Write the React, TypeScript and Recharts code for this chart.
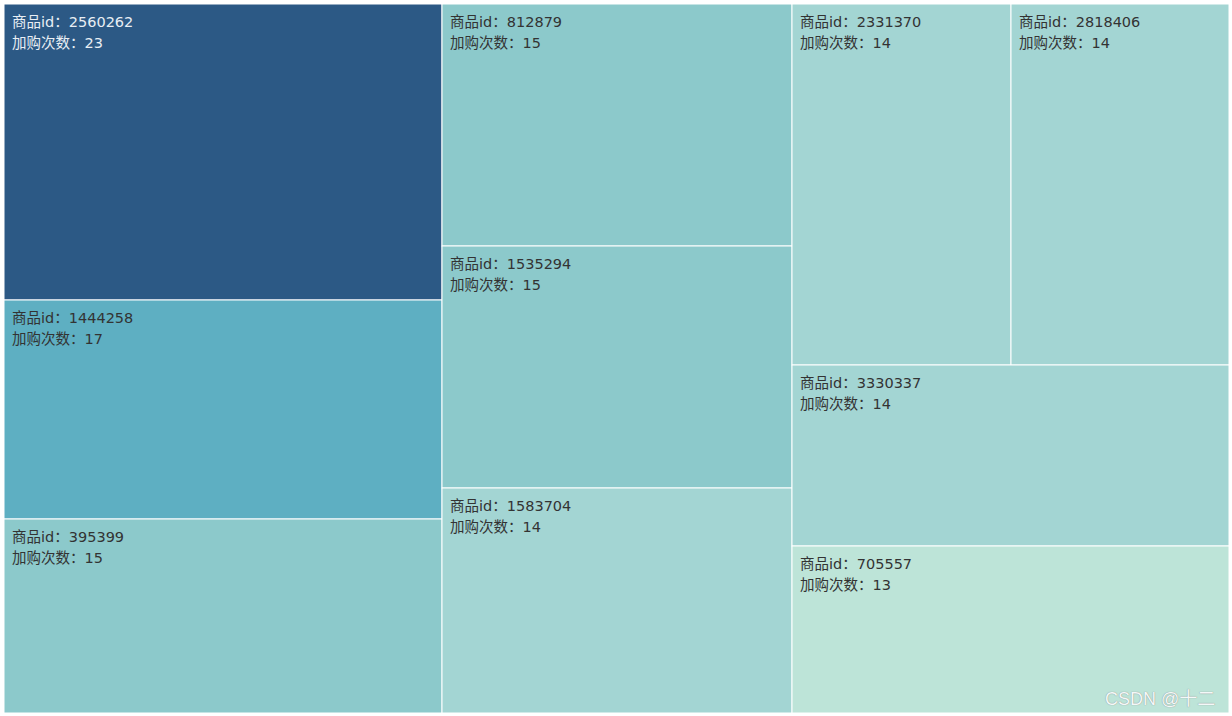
import React from 'react';
import { Treemap } from 'recharts';

const productIds = ['2560262', '1444258', '395399', '812879', '1535294', '1583704', '2331370', '2818406', '3330337', '705557'];
const addCounts = [23, 17, 15, 15, 15, 14, 14, 14, 14, 13];

const colorByCount: Record<number, string> = {
  23: '#2c5985',
  17: '#5eafc2',
  15: '#8cc9cb',
  14: '#a3d5d3',
  13: '#bde4d8',
};

const data = productIds.map((id, i) => ({ name: id, size: addCounts[i] }));

const FONT = '"DejaVu Sans", "Noto Sans CJK SC", sans-serif';

function Cell(props: any) {
  const { x, y, width, height, depth, name, size } = props;
  if (depth !== 1) return null;
  const fill = colorByCount[size] ?? '#a3d5d3';
  const textColor = size >= 20 ? '#e8eef4' : '#333333';
  return (
    <g>
      <rect x={x} y={y} width={width} height={height} fill={fill} stroke="#ffffff" strokeWidth={1} />
      <text x={x + 8} y={y + 19} fill={textColor} fontSize={14.5} fontFamily={FONT} dominantBaseline="middle">
        商品id：{name}
      </text>
      <text x={x + 8} y={y + 40} fill={textColor} fontSize={14.5} fontFamily={FONT} dominantBaseline="middle">
        加购次数：{size}
      </text>
    </g>
  );
}

export default function App() {
  return (
    <div style={{ position: 'absolute', left: 0, top: 0, width: 1232, height: 716, background: '#ffffff' }}>
      <div style={{ position: 'absolute', left: 4, top: 4 }}>
        <Treemap
          width={1225}
          height={709}
          data={data}
          dataKey="size"
          content={<Cell />}
          isAnimationActive={false}
        />
      </div>
      <div
        style={{
          position: 'absolute',
          left: 1105,
          top: 684,
          fontFamily: '"Liberation Sans", "Noto Sans CJK SC", sans-serif',
          fontSize: 18,
          color: '#f4f8f8',
          textShadow: '0 0 1px #777',
        }}
      >
        CSDN @十二
      </div>
    </div>
  );
}
